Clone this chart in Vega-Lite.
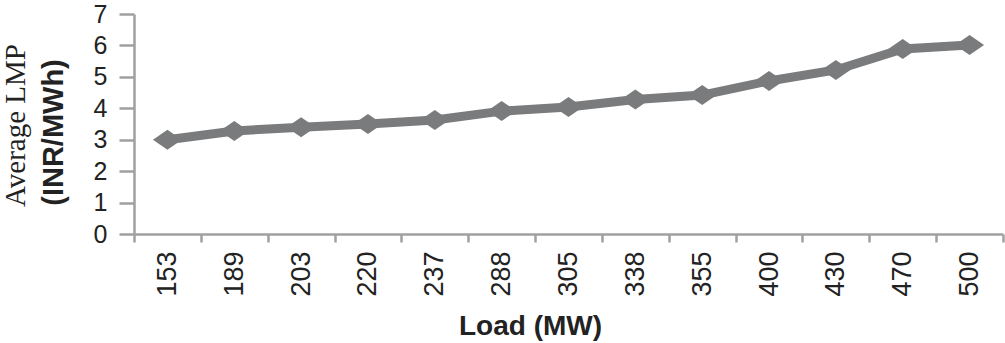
{
  "$schema": "https://vega.github.io/schema/vega-lite/v6.json",
  "width": 869,
  "height": 220,
  "autosize": {"type": "none"},
  "padding": {"left": 134, "top": 14, "right": 2, "bottom": 109},
  "background": "white",
  "config": {"view": {"stroke": null}},
  "data": {"values": [
    {"load": "153", "lmp": 3.0},
    {"load": "189", "lmp": 3.28},
    {"load": "203", "lmp": 3.4},
    {"load": "220", "lmp": 3.5},
    {"load": "237", "lmp": 3.63},
    {"load": "288", "lmp": 3.91},
    {"load": "305", "lmp": 4.04},
    {"load": "338", "lmp": 4.28},
    {"load": "355", "lmp": 4.42},
    {"load": "400", "lmp": 4.87},
    {"load": "430", "lmp": 5.22},
    {"load": "470", "lmp": 5.89},
    {"load": "500", "lmp": 6.01}
  ]},
  "encoding": {
    "x": {
      "field": "load", "type": "ordinal", "sort": null,
      "scale": {"paddingInner": 0, "paddingOuter": 0},
      "axis": {
        "title": "Load (MW)",
        "titleFont": "Liberation Sans", "titleFontSize": 28, "titleFontWeight": "bold", "titleColor": "#222222",
        "titleX": 396, "titleY": 100, "titleAlign": "center", "titleBaseline": "alphabetic",
        "labelAngle": -90, "labelFont": "Liberation Sans", "labelFontSize": 27, "labelColor": "#222222",
        "labelPadding": 9,
        "tickBand": "extent", "tickSize": 8, "tickColor": "#a0a0a0", "tickWidth": 2.5,
        "domainColor": "#a0a0a0", "domainWidth": 2.5, "grid": false
      }
    }
  },
  "layer": [
    {
      "mark": {"type": "line", "color": "#7a7b7d", "strokeWidth": 9},
      "encoding": {
        "y": {
          "field": "lmp", "type": "quantitative",
          "scale": {"domain": [0, 7], "nice": false},
          "axis": {
            "values": [0, 1, 2, 3, 4, 5, 6, 7],
            "title": "(INR/MWh)",
            "titleFont": "Liberation Sans", "titleFontSize": 29, "titleFontWeight": "bold", "titleColor": "#222222",
            "titleX": -72, "titleY": 118, "titleAngle": -90, "titleAlign": "center", "titleBaseline": "alphabetic",
            "labelFont": "Liberation Sans", "labelFontSize": 25, "labelColor": "#222222", "labelPadding": 12,
            "tickSize": 15, "tickColor": "#a0a0a0", "tickWidth": 2.5,
            "domainColor": "#a0a0a0", "domainWidth": 2.5, "grid": false
          }
        }
      }
    },
    {
      "mark": {"type": "point", "shape": "M-1,0L0,-0.69L1,0L0,0.69Z", "filled": true, "color": "#7a7b7d", "opacity": 1, "size": 841},
      "encoding": {
        "y": {
          "field": "lmp", "type": "quantitative",
          "scale": {"domain": [0, 7], "nice": false},
          "axis": {
            "orient": "left",
            "title": "Average LMP",
            "titleFont": "Liberation Serif", "titleFontSize": 29, "titleFontWeight": "normal", "titleColor": "#222222",
            "titleX": -110, "titleY": 111, "titleAngle": -90, "titleAlign": "center", "titleBaseline": "alphabetic",
            "labels": false, "ticks": false, "domain": false, "grid": false
          }
        }
      }
    }
  ],
  "resolve": {"axis": {"y": "independent"}}
}
